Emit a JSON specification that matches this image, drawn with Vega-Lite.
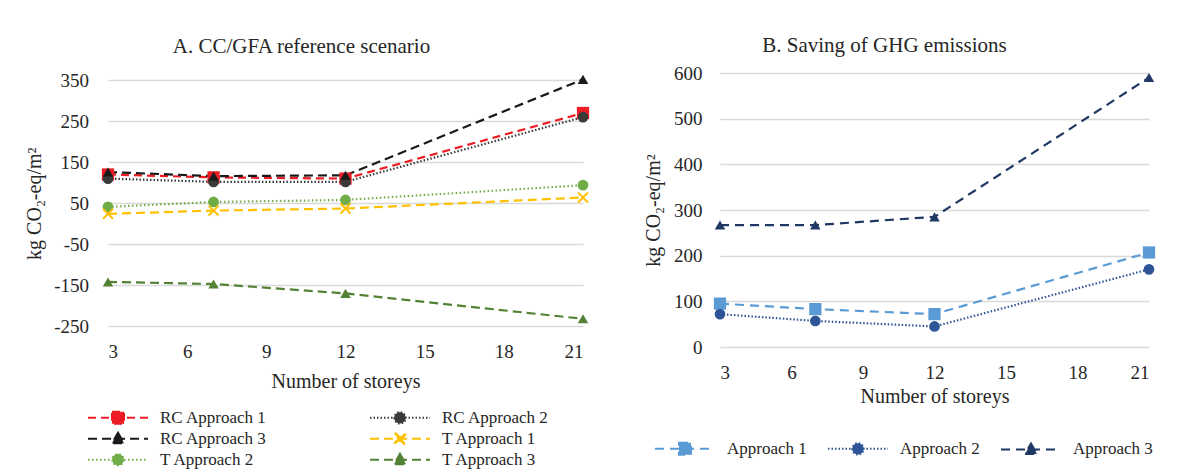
{
  "$schema": "https://vega.github.io/schema/vega-lite/v6.json",
  "padding": {"left": 24, "top": 35, "right": 5, "bottom": 0},
  "background": "white",
  "datasets": {
    "a": [
      {"series": "RC Approach 1", "storeys": 3, "value": 120},
      {"series": "RC Approach 1", "storeys": 7, "value": 113},
      {"series": "RC Approach 1", "storeys": 12, "value": 110},
      {"series": "RC Approach 1", "storeys": 21, "value": 270},
      {"series": "RC Approach 2", "storeys": 3, "value": 110},
      {"series": "RC Approach 2", "storeys": 7, "value": 102},
      {"series": "RC Approach 2", "storeys": 12, "value": 102},
      {"series": "RC Approach 2", "storeys": 21, "value": 260},
      {"series": "RC Approach 3", "storeys": 3, "value": 126},
      {"series": "RC Approach 3", "storeys": 7, "value": 116},
      {"series": "RC Approach 3", "storeys": 12, "value": 118},
      {"series": "RC Approach 3", "storeys": 21, "value": 352},
      {"series": "T Approach 1", "storeys": 3, "value": 24},
      {"series": "T Approach 1", "storeys": 7, "value": 32},
      {"series": "T Approach 1", "storeys": 12, "value": 37},
      {"series": "T Approach 1", "storeys": 21, "value": 64},
      {"series": "T Approach 2", "storeys": 3, "value": 41},
      {"series": "T Approach 2", "storeys": 7, "value": 53},
      {"series": "T Approach 2", "storeys": 12, "value": 58},
      {"series": "T Approach 2", "storeys": 21, "value": 94},
      {"series": "T Approach 3", "storeys": 3, "value": -142},
      {"series": "T Approach 3", "storeys": 7, "value": -147},
      {"series": "T Approach 3", "storeys": 12, "value": -170},
      {"series": "T Approach 3", "storeys": 21, "value": -232}
    ],
    "b": [
      {"series": "Approach 1", "storeys": 3, "value": 95},
      {"series": "Approach 1", "storeys": 7, "value": 83},
      {"series": "Approach 1", "storeys": 12, "value": 72},
      {"series": "Approach 1", "storeys": 21, "value": 207},
      {"series": "Approach 2", "storeys": 3, "value": 72},
      {"series": "Approach 2", "storeys": 7, "value": 57},
      {"series": "Approach 2", "storeys": 12, "value": 45},
      {"series": "Approach 2", "storeys": 21, "value": 170},
      {"series": "Approach 3", "storeys": 3, "value": 267},
      {"series": "Approach 3", "storeys": 7, "value": 267},
      {"series": "Approach 3", "storeys": 12, "value": 285},
      {"series": "Approach 3", "storeys": 21, "value": 590}
    ]
  },
  "config": {
    "font": "Liberation Serif",
    "view": {"stroke": null},
    "axis": {
      "domain": false, "ticks": false, "tickSize": 0,
      "gridColor": "#d9d9d9", "gridWidth": 1.3,
      "labelFont": "Liberation Serif", "labelFontSize": 19, "labelColor": "#262626",
      "titleFont": "Liberation Serif", "titleFontSize": 20, "titleFontWeight": "normal", "titleColor": "#262626"
    },
    "legend": {
      "labelFont": "Liberation Serif", "labelFontSize": 17, "labelColor": "#262626",
      "symbolSize": 400, "symbolOffset": 0, "labelOffset": 31, "padding": 0, "labelLimit": 300, "title": null,
      "symbolOpacity": 1, "symbolStrokeWidth": 2
    },
    "title": {"font": "Liberation Serif", "fontSize": 21, "fontWeight": "normal", "color": "#262626"}
  },
  "spacing": 53,
  "resolve": {"scale": {"color": "independent", "shape": "independent", "strokeDash": "independent"}, "legend": {"color": "independent"}},
  "hconcat": [
    {
      "title": {"text": "A. CC/GFA reference scenario", "offset": 14.5, "dx": -44},
      "width": 475,
      "height": 253.2,
      "data": {"name": "a"},
      "encoding": {
        "x": {"field": "storeys", "type": "quantitative", "scale": {"domain": [3, 21], "nice": false, "zero": false},
          "axis": {"values": [3, 6, 9, 12, 15, 18, 21], "title": "Number of storeys", "grid": false, "labelPadding": 16, "titlePadding": 10}},
        "y": {"field": "value", "type": "quantitative", "scale": {"domain": [-250, 350], "nice": false, "zero": false, "range": [253.2, 7.2]},
          "axis": {"values": [-250, -150, -50, 50, 150, 250, 350], "labelExpr": "datum.value < 0 ? '-' + abs(datum.value) : '' + datum.value", "title": "kg CO₂-eq/m²", "labelPadding": 19.5, "titlePadding": 9}},
        "color": {"field": "series", "type": "nominal",
          "scale": {"domain": ["RC Approach 1", "RC Approach 2", "RC Approach 3", "T Approach 1", "T Approach 2", "T Approach 3"],
            "range": ["#ed1c24", "#3a3a3a", "#1a1a1a", "#ffc000", "#70ad47", "#548235"]},
          "legend": {
            "orient": "none", "legendX": -1, "legendY": 333.7, "columns": 2, "direction": "horizontal", "columnPadding": 99, "rowPadding": -2,
            "encode": {"symbols": {"update": {
              "stroke": {"signal": "{'RC Approach 1':'#ed1c24','RC Approach 2':'#3a3a3a','RC Approach 3':'#1a1a1a','T Approach 1':'#ffc000','T Approach 2':'#70ad47','T Approach 3':'#548235'}[datum.value]"},
              "fill": {"signal": "{'RC Approach 1':'#ed1c24','RC Approach 2':'#3a3a3a','RC Approach 3':'#1a1a1a','T Approach 1':'#ffc000','T Approach 2':'#70ad47','T Approach 3':'#548235'}[datum.value]"},
              "strokeWidth": {"value": 2},
              "opacity": {"value": 1}, "fillOpacity": {"value": 1}, "strokeOpacity": {"value": 1}
            }}}
          }}
      },
      "layer": [
        {"mark": {"type": "line", "strokeWidth": 2.2},
          "encoding": {"strokeDash": {"field": "series", "type": "nominal",
            "scale": {"domain": ["RC Approach 1", "RC Approach 2", "RC Approach 3", "T Approach 1", "T Approach 2", "T Approach 3"],
              "range": [[8, 5], [1.5, 2], [9, 5], [9, 5], [1.5, 2.5], [9, 5]]}, "legend": null}}},
        {"mark": {"type": "point", "filled": true, "opacity": 0, "size": 10},
          "encoding": {"shape": {"field": "series", "type": "nominal",
            "scale": {"domain": ["RC Approach 1", "RC Approach 2", "RC Approach 3", "T Approach 1", "T Approach 2", "T Approach 3"],
              "range": [
                "M-3,0H3M-0.6,-0.6H0.6V0.6H-0.6Z",
                "M-3,0H3M-0.57,0A0.57,0.57,0,1,0,0.57,0A0.57,0.57,0,1,0,-0.57,0Z",
                "M-3,0H3M0,-0.6L0.6,0.45L-0.6,0.45Z",
                "M-3,0H3M-0.54,-0.42L-0.42,-0.54L0,-0.12L0.42,-0.54L0.54,-0.42L0.12,0L0.54,0.42L0.42,0.54L0,0.12L-0.42,0.54L-0.54,0.42L-0.12,0Z",
                "M-3,0H3M-0.57,0A0.57,0.57,0,1,0,0.57,0A0.57,0.57,0,1,0,-0.57,0Z",
                "M-3,0H3M0,-0.6L0.6,0.45L-0.6,0.45Z"]}}}},
        {"transform": [{"filter": {"field": "series", "oneOf": ["RC Approach 1"]}}],
          "mark": {"type": "point", "filled": true, "opacity": 1, "size": 150, "shape": "square"}},
        {"transform": [{"filter": {"field": "series", "oneOf": ["RC Approach 2", "T Approach 2"]}}],
          "mark": {"type": "point", "filled": true, "opacity": 1, "size": 115, "shape": "circle"}},
        {"transform": [{"filter": {"field": "series", "oneOf": ["RC Approach 3", "T Approach 3"]}}],
          "mark": {"type": "point", "filled": true, "opacity": 1, "size": 110, "shape": "triangle-up"}},
        {"transform": [{"filter": {"field": "series", "oneOf": ["T Approach 1"]}}],
          "mark": {"type": "point", "filled": true, "opacity": 1, "size": 130, "shape": "M-1,-0.75L-0.75,-1L0,-0.25L0.75,-1L1,-0.75L0.25,0L1,0.75L0.75,1L0,0.25L-0.75,1L-1,0.75L-0.25,0Z"}}
      ]
    },
    {
      "title": {"text": "B. Saving of GHG emissions", "offset": 8, "dx": -50},
      "width": 429,
      "height": 274,
      "data": {"name": "b"},
      "encoding": {
        "x": {"field": "storeys", "type": "quantitative", "scale": {"domain": [3, 21], "nice": false, "zero": false},
          "axis": {"values": [3, 6, 9, 12, 15, 18, 21], "title": "Number of storeys", "grid": false, "labelPadding": 16, "titlePadding": 4}},
        "y": {"field": "value", "type": "quantitative", "scale": {"domain": [0, 600], "nice": false},
          "axis": {"values": [0, 100, 200, 300, 400, 500, 600], "title": "kg CO₂-eq/m²", "labelPadding": 18, "titlePadding": 10}},
        "color": {"field": "series", "type": "nominal",
          "scale": {"domain": ["Approach 1", "Approach 2", "Approach 3"], "range": ["#5b9bd5", "#2f5597", "#203864"]},
          "legend": {
            "orient": "none", "legendX": -46, "legendY": 364.7, "columns": 3, "direction": "horizontal", "columnPadding": 17,
            "encode": {"symbols": {"update": {
              "stroke": {"signal": "{'Approach 1':'#5b9bd5','Approach 2':'#2f5597','Approach 3':'#203864'}[datum.value]"},
              "fill": {"signal": "{'Approach 1':'#5b9bd5','Approach 2':'#2f5597','Approach 3':'#203864'}[datum.value]"},
              "strokeWidth": {"value": 2},
              "opacity": {"value": 1}, "fillOpacity": {"value": 1}, "strokeOpacity": {"value": 1}
            }}}
          }}
      },
      "layer": [
        {"mark": {"type": "line", "strokeWidth": 2.2},
          "encoding": {"strokeDash": {"field": "series", "type": "nominal",
            "scale": {"domain": ["Approach 1", "Approach 2", "Approach 3"], "range": [[9, 6], [1.5, 2], [9, 6]]}, "legend": null}}},
        {"mark": {"type": "point", "filled": true, "opacity": 0, "size": 10},
          "encoding": {"shape": {"field": "series", "type": "nominal",
            "scale": {"domain": ["Approach 1", "Approach 2", "Approach 3"],
              "range": [
                "M-3,0H3M-0.6,-0.6H0.6V0.6H-0.6Z",
                "M-3,0H3M-0.57,0A0.57,0.57,0,1,0,0.57,0A0.57,0.57,0,1,0,-0.57,0Z",
                "M-3,0H3M0,-0.6L0.6,0.45L-0.6,0.45Z"]}}}},
        {"transform": [{"filter": {"field": "series", "oneOf": ["Approach 1"]}}],
          "mark": {"type": "point", "filled": true, "opacity": 1, "size": 150, "shape": "square"}},
        {"transform": [{"filter": {"field": "series", "oneOf": ["Approach 2"]}}],
          "mark": {"type": "point", "filled": true, "opacity": 1, "size": 115, "shape": "circle"}},
        {"transform": [{"filter": {"field": "series", "oneOf": ["Approach 3"]}}],
          "mark": {"type": "point", "filled": true, "opacity": 1, "size": 110, "shape": "triangle-up"}}
      ]
    }
  ]
}
